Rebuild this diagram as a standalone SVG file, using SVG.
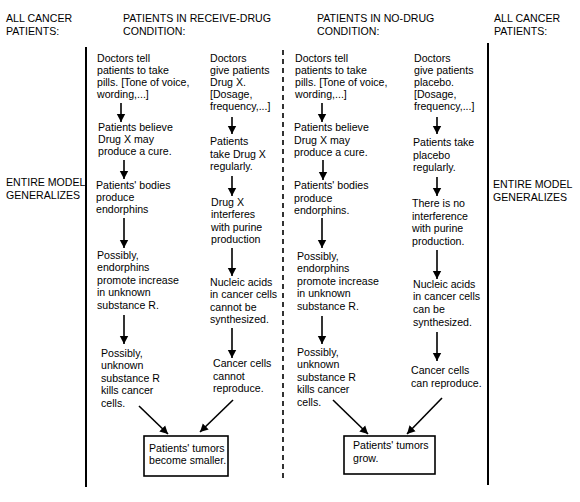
<svg xmlns="http://www.w3.org/2000/svg" width="580" height="502" viewBox="0 0 580 502">
<defs>
<style>
text{font-family:"Liberation Sans",Arial,sans-serif;font-size:10.6px;fill:#000}
.h{font-size:10.6px}
.c{stroke:#000;stroke-width:1.6;fill:none}
.v{stroke:#000;stroke-width:2;fill:none}
.box{stroke:#000;stroke-width:1.6;fill:#fff}
</style>
<marker id="ah" markerUnits="userSpaceOnUse" markerWidth="8" markerHeight="10" viewBox="0 0 8 10" refX="8" refY="5" orient="auto">
<path d="M0,0.8 L8,5 L0,9.2 Z" fill="#000"/>
</marker>
</defs>
<rect width="580" height="502" fill="#fff"/>

<g id="headers">
<text class="h" x="6" y="22"><tspan x="6" y="22">ALL CANCER</tspan><tspan x="6" y="35">PATIENTS:</tspan></text>
<text class="h" x="123" y="22"><tspan x="123" y="22">PATIENTS IN RECEIVE-DRUG</tspan><tspan x="123" y="35">CONDITION:</tspan></text>
<text class="h" x="317" y="22"><tspan x="317" y="22">PATIENTS IN NO-DRUG</tspan><tspan x="317" y="35">CONDITION:</tspan></text>
<text class="h" x="494" y="22"><tspan x="494" y="22">ALL CANCER</tspan><tspan x="494" y="35">PATIENTS:</tspan></text>
<text class="h" x="6" y="186"><tspan x="6" y="186">ENTIRE MODEL</tspan><tspan x="6" y="199">GENERALIZES</tspan></text>
<text class="h" x="493" y="188"><tspan x="493" y="188">ENTIRE MODEL</tspan><tspan x="493" y="201">GENERALIZES</tspan></text>
</g>

<g id="dividers">
<line class="v" x1="86" y1="47" x2="86" y2="487"/>
<line x1="283" y1="50" x2="283" y2="481" stroke="#000" stroke-width="1.6" stroke-dasharray="5,4"/>
<line class="v" x1="488" y1="43" x2="488" y2="485"/>
</g>

<g id="n1a"><text><tspan x="97" y="62">Doctors tell</tspan><tspan x="97" y="74">patients to take</tspan><tspan x="97" y="86">pills. [Tone of voice,</tspan><tspan x="97" y="98">wording,...]</tspan></text></g>
<g id="n1b"><text><tspan x="98" y="131">Patients believe</tspan><tspan x="98" y="143">Drug X may</tspan><tspan x="98" y="155">produce a cure.</tspan></text></g>
<g id="n1c"><text><tspan x="96" y="189">Patients' bodies</tspan><tspan x="96" y="201">produce</tspan><tspan x="96" y="213">endorphins</tspan></text></g>
<g id="n1d"><text><tspan x="97" y="259">Possibly,</tspan><tspan x="97" y="271">endorphins</tspan><tspan x="97" y="284">promote increase</tspan><tspan x="97" y="296">in unknown</tspan><tspan x="97" y="309">substance R.</tspan></text></g>
<g id="n1e"><text><tspan x="101" y="357">Possibly,</tspan><tspan x="101" y="369">unknown</tspan><tspan x="101" y="382">substance R</tspan><tspan x="101" y="394">kills cancer</tspan><tspan x="101" y="407">cells.</tspan></text></g>

<g id="n2a"><text><tspan x="210" y="62">Doctors</tspan><tspan x="210" y="74">give patients</tspan><tspan x="210" y="86">Drug X.</tspan><tspan x="210" y="98">[Dosage,</tspan><tspan x="210" y="110">frequency,...]</tspan></text></g>
<g id="n2b"><text><tspan x="210" y="145">Patients</tspan><tspan x="210" y="158">take Drug X</tspan><tspan x="210" y="170">regularly.</tspan></text></g>
<g id="n2c"><text><tspan x="211" y="206">Drug X</tspan><tspan x="211" y="218">interferes</tspan><tspan x="211" y="231">with purine</tspan><tspan x="211" y="243">production</tspan></text></g>
<g id="n2d"><text><tspan x="210" y="286">Nucleic acids</tspan><tspan x="210" y="298">in cancer cells</tspan><tspan x="210" y="311">cannot be</tspan><tspan x="210" y="323">synthesized.</tspan></text></g>
<g id="n2e"><text><tspan x="213" y="367">Cancer cells</tspan><tspan x="213" y="380">cannot</tspan><tspan x="213" y="392">reproduce.</tspan></text></g>

<g id="n3a"><text><tspan x="295" y="62">Doctors tell</tspan><tspan x="295" y="74">patients to take</tspan><tspan x="295" y="86">pills. [Tone of voice,</tspan><tspan x="295" y="98">wording,...]</tspan></text></g>
<g id="n3b"><text><tspan x="294" y="131">Patients believe</tspan><tspan x="294" y="144">Drug X  may</tspan><tspan x="294" y="156">produce a cure.</tspan></text></g>
<g id="n3c"><text><tspan x="294" y="189">Patients' bodies</tspan><tspan x="294" y="202">produce</tspan><tspan x="294" y="214">endorphins.</tspan></text></g>
<g id="n3d"><text><tspan x="297" y="260">Possibly,</tspan><tspan x="297" y="272">endorphins</tspan><tspan x="297" y="285">promote increase</tspan><tspan x="297" y="297">in unknown</tspan><tspan x="297" y="310">substance R.</tspan></text></g>
<g id="n3e"><text><tspan x="297" y="356">Possibly,</tspan><tspan x="297" y="368">unknown</tspan><tspan x="297" y="381">substance R</tspan><tspan x="297" y="393">kills cancer</tspan><tspan x="297" y="406">cells.</tspan></text></g>

<g id="n4a"><text><tspan x="414" y="62">Doctors</tspan><tspan x="414" y="74">give patients</tspan><tspan x="414" y="86">placebo.</tspan><tspan x="414" y="98">[Dosage,</tspan><tspan x="414" y="110">frequency,...]</tspan></text></g>
<g id="n4b"><text><tspan x="413" y="146">Patients take</tspan><tspan x="413" y="159">placebo</tspan><tspan x="413" y="171">regularly.</tspan></text></g>
<g id="n4c"><text><tspan x="412" y="207">There is no</tspan><tspan x="412" y="220">interference</tspan><tspan x="412" y="232">with purine</tspan><tspan x="412" y="245">production.</tspan></text></g>
<g id="n4d"><text><tspan x="413" y="288">Nucleic acids</tspan><tspan x="413" y="300">in cancer cells</tspan><tspan x="413" y="313">can be</tspan><tspan x="413" y="326">synthesized.</tspan></text></g>
<g id="n4e"><text><tspan x="411" y="374">Cancer cells</tspan><tspan x="411" y="387">can reproduce.</tspan></text></g>

<g id="outA"><rect class="box" x="144" y="436" width="84" height="40"/><text><tspan x="149" y="452">Patients' tumors</tspan><tspan x="149" y="464">become smaller.</tspan></text></g>
<g id="outB"><rect class="box" x="344" y="436" width="91" height="38"/><text><tspan x="353" y="449">Patients' tumors</tspan><tspan x="353" y="462">grow.</tspan></text></g>

<g id="connectors" class="c">
<line class="c" x1="121" y1="103" x2="121" y2="122" marker-end="url(#ah)"/>
<line class="c" x1="124" y1="160" x2="124" y2="179" marker-end="url(#ah)"/>
<line class="c" x1="124" y1="218" x2="124" y2="248" marker-end="url(#ah)"/>
<line class="c" x1="124" y1="315" x2="124" y2="344" marker-end="url(#ah)"/>
<line class="c" x1="139" y1="406" x2="168" y2="434" marker-end="url(#ah)"/>

<line class="c" x1="232" y1="117" x2="232" y2="134" marker-end="url(#ah)"/>
<line class="c" x1="232" y1="176" x2="232" y2="196" marker-end="url(#ah)"/>
<line class="c" x1="232" y1="248" x2="232" y2="276" marker-end="url(#ah)"/>
<line class="c" x1="232" y1="328" x2="232" y2="358" marker-end="url(#ah)"/>
<line class="c" x1="233" y1="400" x2="200" y2="432" marker-end="url(#ah)"/>

<line class="c" x1="322" y1="103" x2="322" y2="122" marker-end="url(#ah)"/>
<line class="c" x1="323" y1="160" x2="323" y2="180" marker-end="url(#ah)"/>
<line class="c" x1="322" y1="218" x2="322" y2="248" marker-end="url(#ah)"/>
<line class="c" x1="322" y1="316" x2="322" y2="344" marker-end="url(#ah)"/>
<line class="c" x1="333" y1="400" x2="368" y2="434" marker-end="url(#ah)"/>

<line class="c" x1="437" y1="117" x2="437" y2="134" marker-end="url(#ah)"/>
<line class="c" x1="437" y1="177" x2="437" y2="196" marker-end="url(#ah)"/>
<line class="c" x1="437" y1="250" x2="437" y2="279" marker-end="url(#ah)"/>
<line class="c" x1="437" y1="332" x2="437" y2="361" marker-end="url(#ah)"/>
<line class="c" x1="442" y1="398" x2="407" y2="434" marker-end="url(#ah)"/>
</g>
</svg>
